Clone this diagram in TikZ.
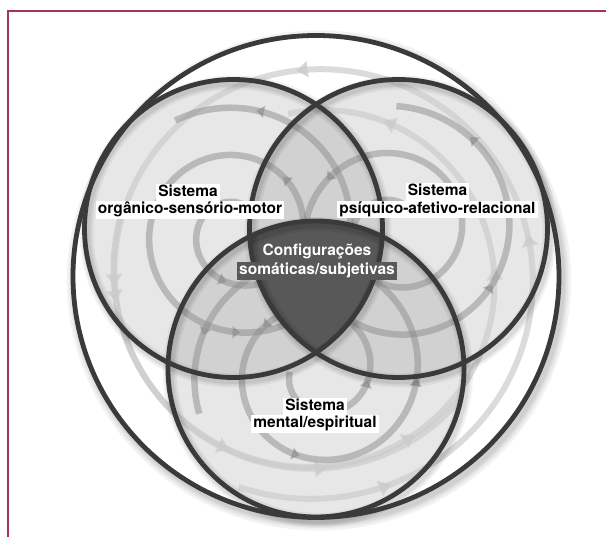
\documentclass[tikz,border=0pt]{standalone}
\usepackage{fontspec}
\setmainfont{TeX Gyre Heros}
\usetikzlibrary{arrows.meta,decorations.markings}
\definecolor{framecol}{RGB}{163,52,90}
\definecolor{ringcol}{RGB}{58,58,58}
\definecolor{corecol}{RGB}{88,88,88}
\begin{document}
\begin{tikzpicture}[x=1pt,y=-1pt,
  ring/.style={draw=ringcol, line width=4.8pt},
  shade1/.style={draw=black, opacity=0.05, line width=#1},
  circfill/.style={fill=black, fill opacity=0.095},
  spiral/.style={draw=black!45, line width=6.5pt, opacity=0.5, line cap=butt,
    postaction={decorate},
    decoration={markings, mark=between positions 0.12 and 0.97 step 0.16 with {\arrow[fill=black!45]{Triangle[length=8pt,width=12pt]}}}},
  lspiral/.style={draw=black!20, line width=6pt, opacity=0.7,
    postaction={decorate},
    decoration={markings, mark=between positions 0.1 and 0.95 step 0.2 with {\arrow[fill=black!20]{Triangle[length=12pt,width=16pt]}}}},
  lab/.style={fill=white, font=\bfseries\fontsize{15.5}{17}\selectfont, inner xsep=2pt, inner ysep=1.5pt, text height=11.3pt, text depth=3.3pt, anchor=base},
  corelab/.style={lab, fill=corecol, text=white}]
\useasboundingbox (0,0) rectangle (606,537);
% frame
\draw[framecol, line width=2.4pt] (606,11) -- (8,11) -- (8,537);
% centres
\coordinate (O) at (316,276.5);
\coordinate (CL) at (233.5,228.5);
\coordinate (CR) at (398.5,228.5);
\coordinate (CB) at (316,369);
% outer shadow
\foreach \w in {18,13,9,6}{\draw[shade1=\w pt] ([shift={(3,4)}]O) ellipse [x radius=243, y radius=241];}
\fill[white] (O) ellipse [x radius=243, y radius=241];
% circle fills
\fill[circfill] (CL) circle (149);
\fill[circfill] (CR) circle (149);
\fill[circfill] (CB) circle (148);
% outer light spiral
\draw[lspiral] plot[domain=0:1, samples=240, variable=\s]
  ({316+(226-36*\s)*cos(470-430*\s)}, {276.5+(224-36*\s)*sin(470-430*\s)});
\draw[lspiral] plot[domain=0:1, samples=200, variable=\s]
  ({316+(205-40*\s)*cos(200-300*\s)}, {276.5+(205-40*\s)*sin(200-300*\s)});
% spirals in circles
\draw[spiral] plot[domain=0:1, samples=300, variable=\s]
  ({238+(28+100*\s)*cos(1000-760*\s)}, {232+(28+100*\s)*sin(1000-760*\s)});
\draw[spiral] plot[domain=0:1, samples=300, variable=\s]
  ({395+(26+100*\s)*cos(1030-760*\s)}, {232+(26+100*\s)*sin(1030-760*\s)});
\draw[spiral] plot[domain=0:1, samples=300, variable=\s]
  ({318+(28+98*\s)*cos(900-740*\s)}, {372+(28+98*\s)*sin(900-740*\s)});
% core
\begin{scope}
  \clip (CL) circle (149);
  \clip (CR) circle (149);
  \fill[corecol] (CB) circle (148);
\end{scope}
% circle shadows
\foreach \w in {14,10,7}{
  \draw[shade1=\w pt] ([shift={(2,3)}]CL) circle (149);
  \draw[shade1=\w pt] ([shift={(2,3)}]CR) circle (149);
  \draw[shade1=\w pt] ([shift={(2,3)}]CB) circle (148);}
% outlines
\draw[ring] (O) ellipse [x radius=243, y radius=241];
\draw[ring] (CL) circle (149);
\draw[ring] (CR) circle (149);
\draw[ring] (CB) circle (148);
% labels
\node[lab] (l1) at (188,197) {Sistema};
\node[lab] (l2) at (190,214) {orgânico-sensório-motor};
\node[lab] (r1) at (437.5,196) {Sistema};
\node[lab] (r2) at (437.5,213.5) {psíquico-afetivo-relacional};
\node[corelab] (c1) at (317,256) {Configurações};
\node[corelab] (c2) at (317,275) {somáticas/subjetivas};
\node[lab] (b1) at (315,410.5) {Sistema};
\node[lab] (b2) at (315,428) {mental/espiritual};
\end{tikzpicture}
\end{document}
